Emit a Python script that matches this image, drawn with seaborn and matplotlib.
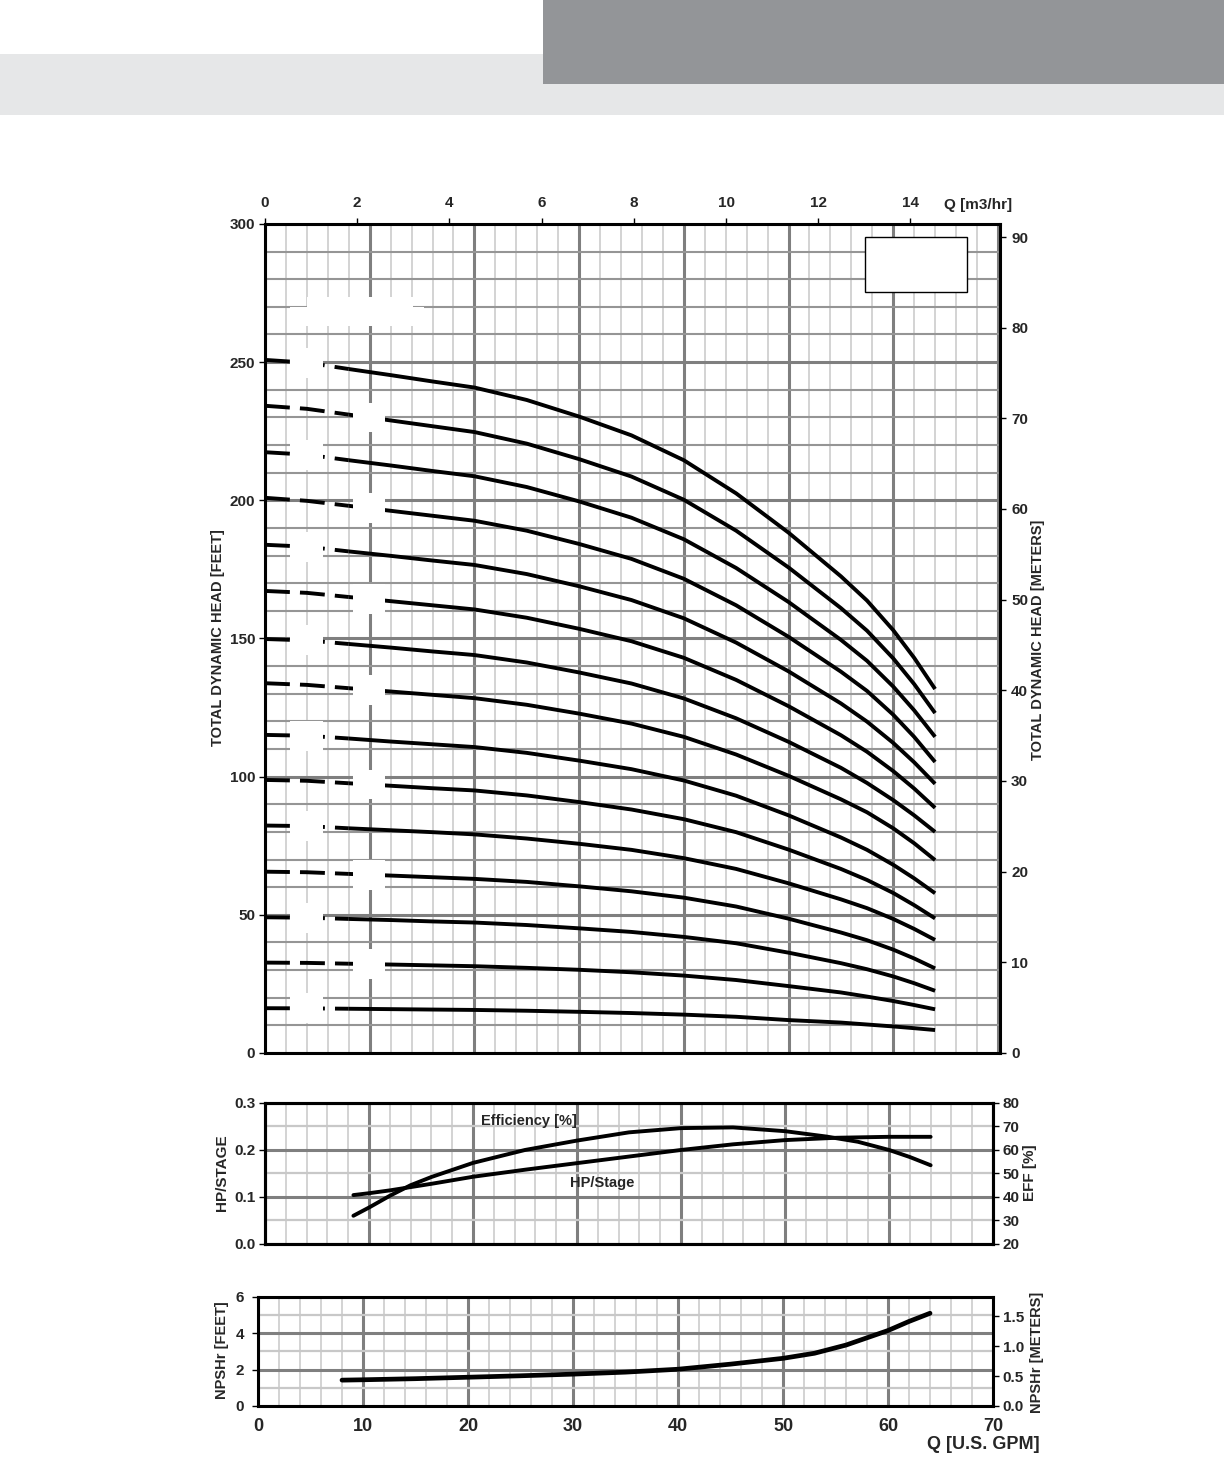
import numpy as np
import seaborn as sns
import matplotlib.pyplot as plt
from matplotlib.patches import Rectangle

sns.set_theme(style='white')
plt.rcParams['font.family'] = ['Liberation Sans', 'DejaVu Sans']
plt.rcParams['font.weight'] = 'bold'
NARROW = ['Liberation Sans Narrow', 'Liberation Sans', 'DejaVu Sans']

# head curves, one per stage count (feet), read at these flows (US GPM)
q_head = [0, 4, 8, 12, 16, 20, 25, 30, 35, 40, 45, 50, 55, 57.5, 60, 62, 64]
head_s1 = [16.2, 16.15, 16.0, 15.86, 15.71, 15.57, 15.28, 14.89, 14.45, 13.87, 13.1, 11.9, 11.0, 10.3, 9.6, 8.97, 8.3]
head_s2 = [32.7, 32.6, 32.3, 32.0, 31.7, 31.4, 30.8, 30.1, 29.2, 28.0, 26.4, 24.2, 21.9, 20.4, 18.8, 17.35, 15.8]
head_s3 = [49.1, 48.95, 48.5, 48.1, 47.6, 47.2, 46.3, 45.1, 43.8, 42.0, 39.7, 36.3, 32.5, 30.3, 27.7, 25.25, 22.5]
head_s4 = [65.6, 65.4, 64.8, 64.2, 63.6, 63.0, 61.9, 60.3, 58.5, 56.2, 53.0, 48.6, 43.6, 40.8, 37.4, 34.2, 30.6]
head_s5 = [82.3, 82.1, 81.3, 80.6, 79.9, 79.1, 77.6, 75.7, 73.5, 70.5, 66.6, 61.4, 55.6, 52.4, 48.5, 44.9, 40.9]
head_s6 = [98.8, 98.5, 97.6, 96.7, 95.8, 95.0, 93.2, 90.8, 88.1, 84.6, 79.9, 73.6, 66.6, 62.6, 57.9, 53.5, 48.7]
head_s7 = [115.1, 114.8, 113.8, 112.7, 111.7, 110.7, 108.6, 105.8, 102.7, 98.6, 93.1, 86.0, 78.0, 73.5, 68.1, 63.2, 57.8]
head_s8 = [133.8, 133.2, 132.0, 130.8, 129.6, 128.4, 126.0, 122.8, 119.2, 114.4, 108.0, 100.3, 91.8, 87.1, 81.3, 75.9, 69.8]
head_s9 = [149.8, 149.3, 148.0, 146.7, 145.3, 144.0, 141.3, 137.7, 133.7, 128.3, 121.1, 112.6, 103.2, 97.7, 91.5, 86.0, 80.0]
head_s10 = [167.2, 166.5, 165.0, 163.5, 162.0, 160.5, 157.5, 153.5, 149.0, 143.0, 135.0, 125.5, 115.0, 109.0, 102.0, 95.7, 88.7]
head_s11 = [183.9, 183.2, 181.5, 179.9, 178.2, 176.6, 173.3, 168.9, 163.9, 157.3, 148.5, 138.1, 126.5, 119.9, 112.2, 105.2, 97.4]
head_s12 = [200.9, 199.8, 198.0, 196.2, 194.4, 192.6, 189.0, 184.2, 178.8, 171.6, 162.0, 150.6, 138.0, 131.0, 122.4, 114.4, 105.3]
head_s13 = [217.4, 216.5, 214.5, 212.6, 210.6, 208.7, 204.8, 199.6, 193.7, 185.9, 175.5, 163.2, 149.5, 141.9, 132.6, 124.0, 114.4]
head_s14 = [234.2, 233.1, 231.0, 228.9, 226.8, 224.7, 220.5, 214.9, 208.6, 200.2, 189.0, 175.7, 161.0, 152.8, 142.8, 133.5, 123.0]
head_s15 = [250.8, 249.8, 247.5, 245.3, 243.0, 240.8, 236.3, 230.3, 223.5, 214.5, 202.5, 188.3, 172.5, 163.7, 153.0, 143.0, 131.7]
heads = [head_s1, head_s2, head_s3, head_s4, head_s5, head_s6, head_s7, head_s8,
         head_s9, head_s10, head_s11, head_s12, head_s13, head_s14, head_s15]

# HP per stage and efficiency
q_hp = [8.5, 10, 12, 14, 16, 20, 25, 30, 35, 40, 45, 50, 55, 60, 64]
hp_stage = [0.104, 0.108, 0.114, 0.121, 0.128, 0.143, 0.158, 0.172, 0.186, 0.200, 0.212, 0.221, 0.226, 0.228, 0.228]
q_eff = [8.5, 10, 12, 14, 16, 18, 20, 25, 30, 35, 40, 45, 50, 54, 57, 60, 62, 64]
eff = [32, 35.5, 40.5, 45, 48.5, 51.5, 54.5, 60, 64, 67.5, 69.3, 69.6, 68, 65.7, 63.5, 60, 57, 53.5]

# NPSH required (feet)
q_npsh = [8, 10, 15, 20, 25, 30, 35, 40, 45, 50, 53, 56, 58, 60, 62, 64]
npsh_ft = [1.42, 1.44, 1.5, 1.58, 1.66, 1.75, 1.86, 2.02, 2.3, 2.62, 2.9, 3.35, 3.75, 4.15, 4.65, 5.1]

GPM_TO_M3H = 0.2271
FT_TO_M = 1 / 3.2808

MAJ = '#7f7f7f'
LIGHT = '#c8c8c8'


def frame(a):
    for s in a.spines.values():
        s.set_visible(True)
        s.set_color('black')
        s.set_linewidth(2.2)
        s.set_zorder(4)


def gridding(a, hminor_color, hminor_lw):
    a.set_axisbelow(True)
    a.xaxis.grid(True, which='major', color=MAJ, lw=2.2)
    a.xaxis.grid(True, which='minor', color=LIGHT, lw=1.1)
    a.yaxis.grid(True, which='major', color=MAJ, lw=2.2)
    a.yaxis.grid(True, which='minor', color=hminor_color, lw=hminor_lw)
    a.tick_params(which='minor', length=0)


fig = plt.figure(figsize=(12.24, 14.58), dpi=100)
fig.patch.set_facecolor('white')
fig.add_artist(Rectangle((0, 0.9211), 1, 0.0419, transform=fig.transFigure,
                         color='#e6e7e8', lw=0, zorder=0))
fig.add_artist(Rectangle((0.4436, 0.9424), 0.5564, 0.0576, transform=fig.transFigure,
                         color='#939598', lw=0, zorder=1))

# ---- main head chart
ax = fig.add_axes([0.2165, 0.2778, 0.6005, 0.5686])
q = np.array(q_head)
for k, h in enumerate(heads, start=1):
    h = np.array(h)
    sns.lineplot(x=q[q <= 8], y=h[q <= 8], ax=ax, color='black', lw=2.8,
                 linestyle=(0, (6.4, 2.6)), estimator=None)
    sns.lineplot(x=q[q >= 8], y=h[q >= 8], ax=ax, color='black', lw=2.8,
                 estimator=None, solid_capstyle='butt', solid_joinstyle='round')
    # white boxes where the stage labels were
    if k % 2:
        x0, x1, qc = 2.4, 5.5, 4
    else:
        x0, x1, qc = 8.4, 11.45, 10
    yc = np.interp(qc, q_head, h)
    ax.add_patch(Rectangle((x0, yc - 5.4), x1 - x0, 10.8, facecolor='white',
                           edgecolor='none', zorder=3))
ax.add_patch(Rectangle((2.35, 262.9), 12.85, 7.0, facecolor='white', edgecolor='none', zorder=3))
ax.add_patch(Rectangle((4.0, 269.8), 10.1, 3.7, facecolor='white', edgecolor='none', zorder=3))
ax.add_patch(Rectangle((57.3, 275.4), 9.75, 19.9, facecolor='white', edgecolor='black',
                       lw=1.0, zorder=3))

ax.set_xlim(0, 70.2)
ax.set_ylim(0, 300)
ax.set_xticks(range(0, 71, 10))
ax.set_xticks(range(0, 71, 2), minor=True)
ax.set_yticks(range(0, 301, 50))
ax.set_yticks(range(0, 301, 10), minor=True)
gridding(ax, '#959595', 1.5)
frame(ax)
ax.set_xlabel('')
ax.set_ylabel('')
ax.tick_params(axis='x', which='both', bottom=False, labelbottom=False)
ax.tick_params(axis='y', which='major', left=True, length=4, width=1, color='black',
               direction='out', pad=3, labelsize=11)

top = ax.secondary_xaxis('top', functions=(lambda g: g * GPM_TO_M3H, lambda m: m / GPM_TO_M3H))
top.set_xticks(range(0, 15, 2))
top.tick_params(length=4, width=1, color='black', direction='out', pad=6, labelsize=11)
right = ax.secondary_yaxis('right', functions=(lambda f: f * FT_TO_M, lambda m: m / FT_TO_M))
right.set_yticks(range(0, 91, 10))
right.tick_params(length=4, width=1, color='black', direction='out', pad=4, labelsize=11)
for sa in (top, right):
    for s in sa.spines.values():
        s.set_visible(False)

fig.text(0.7712, 0.8594, 'Q [m3/hr]', fontsize=11, ha='left', va='center')
fig.text(0.1781, 0.5624, 'TOTAL DYNAMIC HEAD [FEET]', fontsize=10.5, rotation=90,
         ha='center', va='center')
fig.text(0.848, 0.561, 'TOTAL DYNAMIC HEAD [METERS]', fontsize=10.5, rotation=90,
         ha='center', va='center')

# ---- HP / efficiency chart
ax2 = fig.add_axes([0.2165, 0.1468, 0.5948, 0.0967])
sns.lineplot(x=q_hp, y=hp_stage, ax=ax2, color='black', lw=2.8, estimator=None)
ax2.set_xlim(0, 70)
ax2.set_ylim(0, 0.3)
ax2.set_xticks(range(0, 71, 10))
ax2.set_xticks(range(0, 71, 2), minor=True)
ax2.set_yticks([0, 0.1, 0.2, 0.3])
ax2.set_yticks([0.05, 0.15, 0.25], minor=True)
ax2.set_yticklabels(['0.0', '0.1', '0.2', '0.3'])
gridding(ax2, LIGHT, 1.6)
frame(ax2)
ax2.tick_params(axis='x', which='both', bottom=False, labelbottom=False)
ax2.tick_params(axis='y', which='major', left=True, length=4, width=1, color='black',
                pad=3, labelsize=11)
ax2.set_xlabel('')
ax2.set_ylabel('')
ax2.text(20.8, 0.262, 'Efficiency [%]', fontsize=10.5, family=NARROW, va='center')
ax2.text(29.3, 0.130, 'HP/Stage', fontsize=10.5, family=NARROW, va='center')

ax2e = ax2.twinx()
sns.lineplot(x=q_eff, y=eff, ax=ax2e, color='black', lw=2.8, estimator=None)
ax2e.set_ylim(20, 80)
ax2e.set_yticks(range(20, 81, 10))
ax2e.grid(False)
frame(ax2e)
ax2e.set_ylabel('')
ax2e.tick_params(axis='y', right=True, length=4, width=1, color='black', pad=3, labelsize=11)
for a in (ax2, ax2e):
    for lbl in a.get_yticklabels():
        lbl.set_family(NARROW)

fig.text(0.1814, 0.1955, 'HP/STAGE', fontsize=11, rotation=90, ha='center', va='center',
         family=NARROW)
fig.text(0.8415, 0.1955, 'EFF [%]', fontsize=11, rotation=90, ha='center', va='center',
         family=NARROW)

# ---- NPSH chart
ax3 = fig.add_axes([0.2108, 0.0357, 0.6005, 0.0748])
sns.lineplot(x=q_npsh, y=npsh_ft, ax=ax3, color='black', lw=3.4, estimator=None)
ax3.set_xlim(0, 70)
ax3.set_ylim(0, 6)
ax3.set_xticks(range(0, 71, 10))
ax3.set_xticks(range(0, 71, 2), minor=True)
ax3.set_yticks([0, 2, 4, 6])
ax3.set_yticks([1, 3, 5], minor=True)
gridding(ax3, LIGHT, 1.6)
frame(ax3)
ax3.set_xlabel('')
ax3.set_ylabel('')
ax3.tick_params(axis='x', which='major', bottom=False, length=0, pad=9, labelsize=13)
ax3.tick_params(axis='y', which='major', left=True, length=4, width=1, color='black',
                pad=6, labelsize=11)
r3 = ax3.secondary_yaxis('right', functions=(lambda f: f * FT_TO_M, lambda m: m / FT_TO_M))
r3.set_yticks([0, 0.5, 1.0, 1.5])
r3.set_yticklabels(['0.0', '0.5', '1.0', '1.5'])
r3.tick_params(length=4, width=1, color='black', pad=3, labelsize=11)
for s in r3.spines.values():
    s.set_visible(False)
for lbl in ax3.get_xticklabels() + ax3.get_yticklabels() + r3.get_yticklabels():
    lbl.set_family(NARROW)

fig.text(0.1814, 0.074, 'NPSHr [FEET]', fontsize=10.5, rotation=90, ha='center', va='center')
fig.text(0.847, 0.0727, 'NPSHr [METERS]', fontsize=10.5, rotation=90, ha='center', va='center')
fig.text(0.8497, 0.0096, 'Q [U.S. GPM]', fontsize=13, ha='right', va='center', family=NARROW)

fig.savefig('out.png', dpi=100, facecolor='white')
